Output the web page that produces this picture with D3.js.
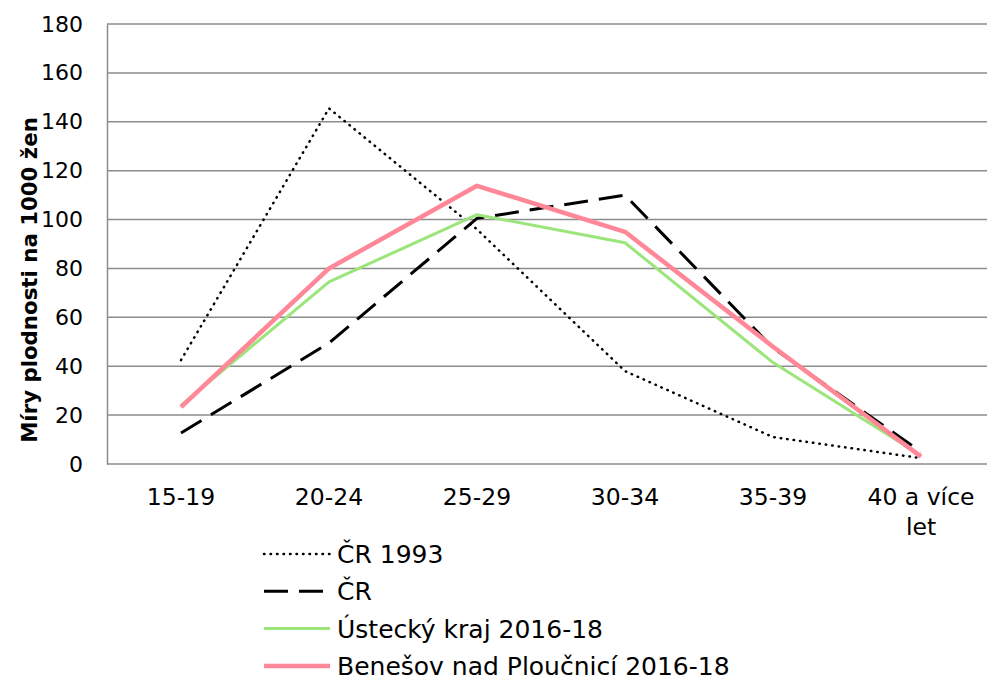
<!DOCTYPE html>
<html>
<head>
<meta charset="utf-8">
<script src="https://cdn.jsdelivr.net/npm/d3@7"></script>
<style>
  body { margin: 0; background: #fff; }
  svg { display: block; font-family: 'DejaVu Sans', Verdana, sans-serif; }
</style>
</head>
<body>
<svg id="chart" width="987" height="682"></svg>
<script>
// age groups
const categories = ['15-19', '20-24', '25-29', '30-34', '35-39', '40 a více let']
const yTicks = [0, 20, 40, 60, 80, 100, 120, 140, 160, 180]

// fertility rates per 1000 women
const cr1993 = [42.5, 145.5, 96, 38, 11, 2.4]
const cr = [12.7, 49.5, 100.5, 110, 47.5, 4.9]
const ustecky = [24, 74.5, 102, 90.5, 41.5, 3.5]
const benesov = [23.3, 80, 113.8, 95, 48, 3]

const seriesNames = ['ČR 1993', 'ČR', 'Ústecký kraj 2016-18', 'Benešov nad Ploučnicí 2016-18']

let svg = d3.select('#chart')
let margin = {top: 24, left: 107, bottom: 218}
let plotRight = 995
let height = 682 - margin.top - margin.bottom

let x = d3.scaleBand()
  .domain(categories)
  .range([margin.left, plotRight])
  .padding(0)

let y = d3.scaleLinear()
  .domain([0, 180])
  .range([margin.top + height, margin.top])

let cx = (c) => x(c) + x.bandwidth() / 2

// horizontal grid
svg.append('g')
  .selectAll('line')
  .data(yTicks)
  .join('line')
    .attr('x1', margin.left)
    .attr('x2', plotRight)
    .attr('y1', (d) => y(d))
    .attr('y2', (d) => y(d))
    .attr('stroke', '#8c8c8c')
    .attr('stroke-width', 1.5)

// y axis
let yAxis = svg.append('g')
  .attr('transform', 'translate(' + margin.left + ',0)')
  .call(d3.axisLeft(y).tickValues(yTicks).tickSize(0).tickPadding(24))
yAxis.select('.domain').attr('stroke', '#8c8c8c').attr('stroke-width', 1.5)
yAxis.selectAll('text').attr('font-size', 22).attr('fill', '#000')
  .attr('font-family', "'DejaVu Sans', Verdana, sans-serif")

// x axis labels
let xLabels = svg.append('g')
xLabels.selectAll('text')
  .data(categories)
  .join('text')
    .attr('x', (d) => cx(d))
    .attr('y', y(0) + 41)
    .attr('text-anchor', 'middle')
    .attr('font-size', 23.5)
    .each(function (d) {
      let t = d3.select(this)
      if (d === '40 a více let') {
        t.append('tspan').attr('x', cx(d)).text('40 a více')
        t.append('tspan').attr('x', cx(d)).attr('dy', 30).text('let')
      } else {
        t.text(d)
      }
    })

// axis title
svg.append('text')
  .attr('transform', 'translate(37,280) rotate(-90)')
  .attr('text-anchor', 'middle')
  .attr('font-size', 21.3)
  .attr('font-weight', 'bold')
  .text('Míry plodnosti na 1000 žen')

let styles = [
  {color: '#000', width: 2.5, dash: '0.5,6', cap: 'round'},
  {color: '#000', width: 3, dash: '24,11', cap: 'butt'},
  {color: '#9be57a', width: 3, dash: null, cap: 'butt'},
  {color: '#ff8797', width: 4.5, dash: null, cap: 'butt'}
]
let allSeries = [cr1993, cr, ustecky, benesov]

let line = d3.line()
  .x((d, i) => cx(categories[i]))
  .y((d) => y(d))

allSeries.forEach((s, i) => {
  svg.append('path')
    .datum(s)
    .attr('fill', 'none')
    .attr('stroke', styles[i].color)
    .attr('stroke-width', styles[i].width)
    .attr('stroke-dasharray', styles[i].dash)
    .attr('stroke-linecap', styles[i].cap)
    .attr('stroke-linejoin', 'round')
    .attr('d', line)
})

// legend
let legend = svg.append('g')
seriesNames.forEach((name, i) => {
  let ly = 554 + i * 37.3
  legend.append('line')
    .attr('x1', 264).attr('x2', 330)
    .attr('y1', ly).attr('y2', ly)
    .attr('stroke', styles[i].color)
    .attr('stroke-width', styles[i].width)
    .attr('stroke-dasharray', styles[i].dash)
    .attr('stroke-linecap', styles[i].cap)
  legend.append('text')
    .attr('x', 337)
    .attr('y', ly)
    .attr('dy', '0.36em')
    .attr('font-size', 25)
    .text(name)
})
</script>
</body>
</html>
